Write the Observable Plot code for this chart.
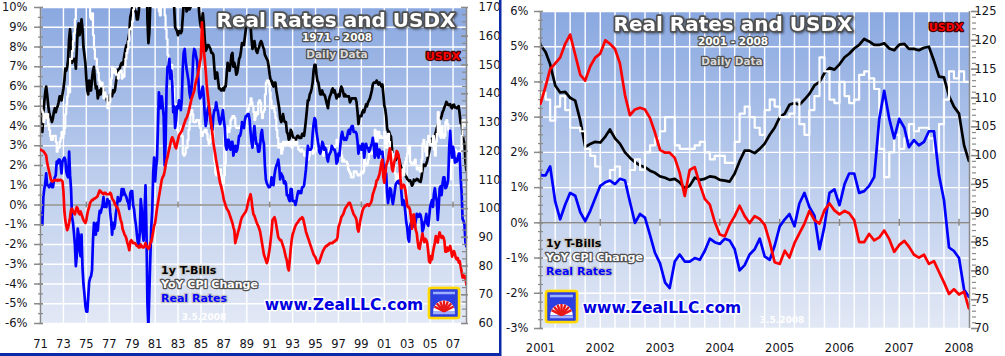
<!DOCTYPE html>
<html><head><meta charset="utf-8">
<script src="https://cdn.jsdelivr.net/npm/d3@7"></script>
<script src="https://cdn.jsdelivr.net/npm/@observablehq/plot@0.6"></script>
<style>
html,body{margin:0;padding:0;background:#fff;}
body{width:1005px;height:356px;overflow:hidden;position:relative;font-family:"DejaVu Sans",sans-serif;}
.layer{position:absolute;top:0;}
.layer svg{display:block;}
#overlay{position:absolute;left:0;top:0;pointer-events:none;}
.o{paint-order:stroke;stroke-linejoin:round;font-family:"DejaVu Sans",sans-serif;font-weight:bold;}
</style></head>
<body>
<svg width="0" height="0" style="position:absolute">
  <defs>
    <linearGradient id="bg" x1="0" y1="0" x2="0" y2="1">
      <stop offset="0" stop-color="#8aa8e0"/>
      <stop offset="0.5" stop-color="#b9cbec"/>
      <stop offset="1" stop-color="#e2e8f5"/>
    </linearGradient>
  </defs>
</svg>
<div id="p1a" class="layer" style="left:0"></div>
<div id="p1b" class="layer" style="left:0"></div>
<div id="p2a" class="layer" style="left:501px"></div>
<div id="p2b" class="layer" style="left:501px"></div>
<svg id="overlay" width="1005" height="356"></svg>
<script>
// ---- Monthly data, Jan 1971 .. Mar 2008 ----
const startYear = 1971;
// 1-year T-Bill yield (%)
const tbill = [
4.9,3.8,3.7,4.6,5.2,5.7,6.0,5.6,5.1,4.7,4.5,4.4,
4.2,4.4,4.7,4.9,4.7,4.9,5.0,5.2,5.5,5.5,5.3,5.6,
5.9,6.3,6.9,6.8,7.0,7.4,8.4,8.9,8.2,7.2,7.4,7.3,
7.4,6.9,7.8,8.9,9.2,8.6,8.9,9.4,8.9,8.0,7.6,7.2,
6.4,5.8,5.6,6.3,5.8,5.8,6.4,6.8,7.0,6.3,5.9,6.0,
5.4,5.6,5.8,5.6,6.0,6.0,5.8,5.6,5.5,5.4,5.2,5.1,
5.4,5.6,5.6,5.5,5.8,5.7,5.8,6.2,6.5,6.8,6.9,6.9,
7.1,7.2,7.1,7.3,7.6,7.9,8.1,8.1,8.4,8.7,9.5,9.7,
10.0,9.9,10.0,9.8,9.8,9.4,9.4,9.8,10.8,12.4,12.4,11.9,
12.1,13.9,15.8,13.3,9.4,8.2,8.7,10.2,11.5,12.5,14.2,14.9,
13.0,13.3,12.8,13.9,15.5,14.9,15.7,16.3,16.0,14.6,11.6,12.0,
14.3,14.6,13.8,13.9,13.1,13.9,12.6,10.6,10.0,9.0,8.9,8.8,
8.6,8.8,8.8,8.7,8.8,9.5,10.2,10.5,10.2,9.8,9.9,10.1,
9.9,10.0,10.6,11.0,11.7,12.1,12.0,11.8,11.6,10.9,9.8,9.3,
9.0,9.3,9.7,9.2,8.4,7.8,7.9,8.1,8.1,8.0,7.9,7.7,
7.7,7.6,7.0,6.4,6.7,6.7,6.3,5.9,5.9,5.8,5.8,5.9,
5.8,6.0,6.0,6.6,7.2,7.0,6.8,7.1,7.6,7.7,7.0,7.2,
7.0,6.6,6.7,7.0,7.4,7.5,7.8,8.2,8.2,8.1,8.5,8.9,
9.2,9.4,9.6,9.4,9.1,8.4,7.9,8.2,8.3,8.0,7.8,7.7,
7.9,8.0,8.2,8.3,8.2,8.0,7.9,7.6,7.5,7.4,7.3,7.0,
6.6,6.3,6.3,6.1,6.0,6.2,6.2,5.8,5.5,5.2,4.9,4.4,
4.2,4.3,4.6,4.3,4.2,4.2,3.7,3.6,3.3,3.4,3.8,3.7,
3.5,3.4,3.3,3.2,3.4,3.5,3.5,3.4,3.4,3.4,3.6,3.6,
3.5,3.9,4.3,4.8,5.3,5.3,5.6,5.7,5.9,6.2,6.8,7.1,
7.1,6.6,6.3,6.2,5.9,5.6,5.6,5.8,5.6,5.6,5.5,5.3,
5.1,4.9,5.3,5.5,5.6,5.8,5.9,5.7,5.8,5.6,5.4,5.5,
5.6,5.5,5.8,6.0,5.9,5.7,5.5,5.6,5.5,5.5,5.5,5.5,
5.2,5.3,5.4,5.4,5.4,5.4,5.4,5.2,4.7,4.1,4.5,4.5,
4.5,4.7,4.8,4.7,4.9,5.1,5.0,5.2,5.3,5.4,5.6,5.8,
6.1,6.2,6.2,6.2,6.3,6.2,6.1,6.2,6.1,6.0,6.1,5.6,
5.05,4.85,4.5,3.9,3.7,3.72,3.55,3.47,2.9,2.15,2.24,2.3,
2.28,2.45,2.65,2.4,2.25,2.0,1.85,1.72,1.63,1.58,1.48,1.42,
1.32,1.28,1.22,1.25,1.15,0.98,1.05,1.28,1.22,1.25,1.32,1.3,
1.22,1.2,1.17,1.4,1.75,2.05,2.05,1.98,2.1,2.25,2.5,2.7,
3.0,3.1,3.35,3.4,3.35,3.5,3.66,3.9,4.0,4.25,4.4,4.35,
4.5,4.7,4.8,4.95,5.05,5.22,5.15,5.05,5.05,5.1,4.95,4.9,
5.06,5.08,4.94,4.94,4.9,4.97,5.0,4.6,4.15,4.13,3.6,3.3,
3.1,2.2,1.76];
// YoY CPI change (%)
const cpi = [
5.3,4.8,4.7,4.2,4.4,4.6,4.4,4.6,4.1,3.8,3.5,3.3,
3.3,3.5,3.5,3.5,3.2,2.7,2.9,2.9,3.2,3.4,3.7,3.4,
3.6,3.9,4.6,5.1,5.5,6.0,5.7,7.4,7.4,7.8,8.3,8.7,
9.4,10.0,10.4,10.1,10.7,10.9,11.5,10.9,12.1,12.0,12.1,12.3,
11.8,11.2,10.3,10.2,9.5,9.4,9.7,8.6,7.9,7.4,7.4,6.9,
6.7,6.3,6.1,6.0,6.2,6.0,5.4,5.7,5.5,5.5,4.9,4.9,
5.2,6.0,6.4,7.0,6.7,6.9,6.8,6.6,6.6,6.4,6.7,6.7,
6.8,6.4,6.6,6.5,7.0,7.4,7.7,7.9,8.3,8.9,8.9,9.0,
9.3,9.9,10.2,10.5,10.8,10.9,11.3,11.8,12.2,12.1,12.6,13.3,
13.9,14.2,14.8,14.7,14.4,14.4,13.1,12.9,12.6,12.8,12.6,12.5,
11.8,11.4,10.5,10.0,9.8,9.6,10.8,10.8,11.0,10.1,9.6,8.9,
8.4,7.6,6.8,6.5,6.7,7.1,6.4,5.9,5.0,5.1,4.6,3.8,
3.7,3.5,3.6,3.9,3.5,2.6,2.5,2.6,2.9,2.9,3.3,3.8,
4.2,4.6,4.8,4.6,4.2,4.2,4.2,4.3,4.3,4.3,4.1,3.9,
3.5,3.5,3.7,3.7,3.8,3.8,3.6,3.3,3.1,3.2,3.5,3.8,
3.9,3.1,2.2,1.6,1.5,1.8,1.6,1.6,1.8,1.5,1.3,1.1,
1.5,2.1,3.0,3.8,3.9,3.7,3.9,4.3,4.4,4.5,4.5,4.4,
4.0,3.9,3.9,3.9,3.9,4.0,4.1,4.0,4.2,4.2,4.2,4.4,
4.7,4.8,5.0,5.1,5.4,5.2,5.0,4.7,4.3,4.5,4.7,4.6,
5.2,5.3,5.2,4.7,4.4,4.7,4.8,5.6,6.2,6.3,6.3,6.1,
5.7,5.3,4.9,4.9,5.0,4.7,4.4,3.8,3.4,2.9,3.0,3.1,
2.6,2.8,3.2,3.2,3.0,3.1,3.2,3.1,3.0,3.2,3.0,2.9,
3.3,3.2,3.1,3.2,3.2,3.0,2.8,2.8,2.7,2.8,2.7,2.7,
2.5,2.5,2.5,2.4,2.3,2.5,2.8,2.9,3.0,2.6,2.7,2.7,
2.8,2.9,2.9,3.1,3.2,3.0,2.8,2.6,2.5,2.8,2.6,2.5,
2.7,2.7,2.8,2.9,2.9,2.8,3.0,2.9,3.0,3.0,3.3,3.3,
3.0,3.0,2.8,2.5,2.2,2.3,2.2,2.2,2.2,2.1,1.8,1.7,
1.6,1.4,1.4,1.4,1.7,1.7,1.7,1.6,1.5,1.5,1.5,1.6,
1.7,1.6,1.7,2.3,2.1,2.0,2.1,2.3,2.6,2.6,2.6,2.7,
2.7,3.2,3.8,3.1,3.2,3.7,3.7,3.4,3.5,3.4,3.4,3.4,
3.7,3.5,2.9,3.3,3.6,3.2,2.7,2.7,2.6,2.1,1.9,1.6,
1.1,1.1,1.5,1.6,1.2,1.1,1.5,1.8,1.5,2.0,2.2,2.4,
2.6,3.0,3.0,2.2,2.1,2.1,2.1,2.2,2.3,2.0,1.8,1.9,
1.9,1.7,1.7,2.3,3.1,3.3,3.0,2.7,2.5,3.2,3.5,3.3,
3.0,3.0,3.1,3.5,2.8,2.5,3.2,3.6,4.7,4.3,3.5,3.4,
4.0,3.6,3.4,3.5,4.2,4.3,4.1,3.8,2.1,1.3,2.0,2.5,
2.1,2.4,2.8,2.6,2.7,2.7,2.4,2.0,2.8,3.5,4.3,4.1,
4.3,4.0,4.0];
// Real rates (%)
const realRate = [
-0.4,-1.0,-1.0,0.4,0.8,1.1,1.6,1.0,1.0,0.9,1.0,1.1,
0.9,0.9,1.2,1.4,1.5,2.2,2.1,2.3,2.3,2.1,1.6,2.2,
2.3,2.4,2.3,1.7,1.5,1.4,2.7,1.5,0.8,-0.6,-0.9,-1.4,
-2.0,-3.1,-2.6,-1.2,-1.5,-2.3,-2.6,-1.5,-3.2,-4.0,-4.5,-5.1,
-5.4,-5.4,-4.7,-3.9,-3.7,-3.6,-3.3,-1.8,-0.9,-1.1,-1.5,-0.9,
-1.3,-0.7,-0.3,-0.4,-0.2,0.0,0.4,-0.1,0.0,-0.1,0.3,0.2,
0.2,-0.4,-0.8,-1.5,-0.9,-1.2,-1.0,-0.4,-0.1,0.4,0.2,0.2,
0.3,0.8,0.5,0.8,0.6,0.5,0.4,0.2,0.1,-0.2,0.6,0.7,
0.7,0.0,-0.2,-0.7,-1.0,-1.5,-1.9,-2.0,-1.4,0.3,-0.2,-1.4,
-1.8,-0.3,1.0,-1.4,-5.0,-6.2,-4.4,-2.7,-1.1,-0.3,1.6,2.4,
1.2,1.9,2.3,3.9,5.7,5.3,4.9,5.5,5.0,4.5,2.0,3.1,
5.9,7.0,7.0,7.4,6.4,6.8,6.2,4.7,5.0,3.9,4.3,5.0,
4.9,5.3,5.2,4.8,5.3,6.9,7.7,7.9,7.3,6.9,6.6,6.3,
5.7,5.4,5.8,6.4,7.5,7.9,7.8,7.5,7.3,6.6,5.7,5.4,
5.5,5.8,6.0,5.5,4.6,4.0,4.3,4.8,5.0,4.8,4.4,3.9,
3.8,4.5,4.8,4.8,5.2,4.9,4.7,4.3,4.1,4.3,4.5,4.8,
4.3,3.9,3.0,2.8,3.3,3.3,2.9,2.8,3.2,3.2,2.5,2.8,
3.0,2.7,2.8,3.1,3.5,3.5,3.7,4.2,4.0,3.9,4.3,4.5,
4.5,4.6,4.6,4.3,3.7,3.2,2.9,3.5,4.0,3.5,3.1,3.1,
2.7,2.7,3.0,3.6,3.8,3.3,3.1,2.0,1.3,1.1,1.0,0.9,
0.9,1.0,1.4,1.2,1.0,1.5,1.8,2.0,2.1,2.3,1.9,1.3,
1.6,1.5,1.4,1.1,1.2,1.1,0.5,0.5,0.3,0.2,0.8,0.8,
0.2,0.2,0.2,0.0,0.2,0.5,0.7,0.6,0.7,0.6,0.9,0.9,
1.0,1.4,1.8,2.4,3.0,2.8,2.8,2.8,2.9,3.6,4.1,4.4,
4.3,3.7,3.4,3.1,2.7,2.6,2.8,3.2,3.1,2.8,2.9,2.8,
2.4,2.2,2.5,2.6,2.7,3.0,2.9,2.8,2.8,2.6,2.1,2.2,
2.6,2.5,3.0,3.5,3.7,3.4,3.3,3.4,3.3,3.4,3.7,3.8,
3.6,3.9,4.0,4.0,3.7,3.7,3.7,3.6,3.2,2.6,3.0,2.9,
2.8,3.1,3.1,2.4,2.8,3.1,2.9,2.9,2.7,2.8,3.0,3.1,
3.4,3.0,2.4,3.1,3.1,2.5,2.4,2.8,2.6,2.6,2.7,2.2,
1.35,1.35,1.6,0.6,0.1,0.52,0.85,0.77,0.3,0.05,0.34,0.7,
1.05,1.15,1.2,1.1,1.25,1.2,0.6,0.0,0.25,0.15,-0.35,-0.85,
-1.15,-1.7,-1.85,-1.1,-0.9,-1.1,-1.1,-1.0,-1.05,-0.8,-0.45,-0.55,
-0.6,-0.45,-0.5,-0.75,-1.35,-1.2,-0.9,-0.75,-0.45,-0.95,-1.05,-0.65,
-0.1,0.1,0.25,-0.1,0.55,0.85,0.45,0.2,-0.75,-0.1,0.85,0.95,
0.5,1.1,1.4,1.4,0.85,0.9,1.05,1.3,2.95,3.75,2.95,2.4,
2.95,2.7,2.15,2.35,2.2,2.3,2.6,2.6,1.35,0.65,-0.7,-0.8,
-1.0,-1.9,-2.1];
// US Dollar Index
const usdx = [
120.5,120.3,120.2,120.0,119.5,119.0,118.5,116.0,114.5,113.0,111.5,110.0,
109.5,109.5,109.8,110.0,109.8,110.0,109.7,110.0,109.8,110.0,109.8,109.5,
106.0,99.0,96.0,94.0,92.5,93.5,95.0,97.0,99.5,100.0,99.0,98.5,
98.0,99.5,100.5,100.0,98.5,98.0,99.0,98.0,97.0,96.0,95.5,95.0,
96.0,98.0,99.5,100.5,102.0,102.5,103.0,103.0,103.5,103.5,103.8,104.0,
104.5,105.5,106.3,106.0,105.5,105.5,105.0,105.5,105.5,105.0,105.0,105.0,
105.0,105.5,105.0,103.5,103.0,102.5,101.5,101.0,100.5,100.0,99.0,97.5,
96.0,95.0,93.0,92.0,91.0,90.5,89.5,88.0,87.0,85.5,88.5,89.0,
88.5,88.0,88.0,88.0,87.5,87.0,87.0,86.5,86.5,87.5,87.0,86.5,
86.5,87.0,88.0,87.0,86.5,86.0,86.5,88.0,88.5,90.0,92.0,94.0,
95.0,97.5,100.0,102.0,104.0,106.0,108.0,110.0,111.0,111.5,113.0,115.0,
116.8,118.0,119.5,121.0,122.5,124.0,124.8,124.0,123.0,121.5,121.0,122.5,
124.0,125.5,126.0,126.5,127.0,128.0,129.0,130.0,131.0,131.5,132.5,133.5,
135.0,136.5,138.0,139.0,140.0,141.0,143.0,144.5,145.6,147.0,149.0,151.0,
152.6,164.8,160.0,155.0,152.0,148.0,143.5,140.0,137.0,134.0,131.5,129.0,
126.0,123.0,121.0,119.0,116.7,115.0,113.0,111.0,109.0,108.0,106.5,105.0,
103.0,102.0,101.0,100.0,99.5,99.0,98.0,97.0,96.0,95.0,93.5,92.4,
88.0,89.5,90.5,92.0,93.0,94.5,96.0,97.0,97.5,98.0,98.5,99.0,
100.0,101.5,103.0,104.0,105.0,103.0,100.0,98.0,97.5,96.5,95.5,94.6,
94.0,93.0,92.0,90.0,88.0,86.0,84.0,83.0,82.0,81.0,82.0,84.0,
86.0,89.0,92.0,96.0,96.5,97.0,96.0,94.0,92.0,90.0,89.5,89.0,
89.0,88.0,87.0,86.0,84.5,83.0,82.0,79.5,78.5,82.0,86.0,89.0,
91.0,92.0,93.0,94.0,94.6,95.0,95.5,96.0,96.5,96.5,97.0,96.5,
95.0,93.5,92.0,91.0,90.0,89.0,88.0,87.0,86.0,85.0,84.0,83.5,
83.0,82.0,81.0,81.0,81.5,82.5,83.5,84.5,85.4,86.0,86.5,87.0,
87.0,87.5,87.5,88.0,88.0,88.0,88.0,88.5,88.5,89.0,89.0,90.0,
93.5,94.5,95.5,97.0,97.5,98.0,99.0,100.0,100.5,101.0,101.5,102.0,
102.0,101.0,100.0,99.0,98.0,97.5,97.0,96.0,93.0,92.0,94.0,96.0,
97.5,99.0,100.0,100.5,101.0,101.0,101.5,101.5,101.0,101.5,102.0,103.0,
105.0,106.0,107.0,108.0,109.8,110.0,111.0,112.0,114.0,116.0,117.0,111.0,
109.0,112.0,115.0,116.0,117.0,119.4,121.0,117.5,114.0,113.0,115.5,117.0,
117.7,120.0,119.4,118.5,116.0,110.5,107.0,108.0,108.3,108.0,106.5,104.0,
101.0,100.5,100.5,99.6,97.0,93.0,97.5,98.0,95.0,92.5,91.5,88.5,
86.3,86.0,88.0,89.5,91.3,89.5,88.3,89.5,89.0,88.0,85.0,81.5,
81.2,83.5,82.3,84.8,86.5,88.2,90.4,88.8,88.2,90.5,91.7,90.5,
89.8,90.4,90.0,88.8,85.0,85.0,86.4,85.3,85.8,87.0,85.5,83.3,
84.5,85.2,84.2,82.8,82.3,82.8,81.2,81.7,79.8,78.0,76.0,76.8,
75.9,76.4,73.5];

// axis tick labels
const longYears = [1971,1973,1975,1977,1979,1981,1983,1985,1987,1989,1991,1993,1995,1997,1999,2001,2003,2005,2007];
const longZeroTickYears = [1975,1983,1991,1999,2007];
const shortYears = [2001,2002,2003,2004,2005,2006,2007,2008];
const longPct = [-6,-5,-4,-3,-2,-1,0,1,2,3,4,5,6,7,8,9,10];
const shortPct = [-3,-2,-1,0,1,2,3,4,5,6];
const longUsdx = [60,70,80,90,100,110,120,130,140,150,160,170];
const shortUsdx = [70,75,80,85,90,95,100,105,110,115,120,125];

const U = (y, m = 0, d = 1) => new Date(Date.UTC(y, m, d));
const rows = tbill.map((v, i) => ({
  date: U(startYear, i, 1), tbill: v, cpi: cpi[i], real: realRate[i], usdx: usdx[i]
}));
const endDate = U(2008, 2, 5);
const noText = () => "";

function panel(cfg) {
  const common = {
    width: cfg.width, height: 356,
    marginLeft: cfg.ml, marginRight: cfg.mr, marginTop: cfg.mt, marginBottom: cfg.mb,
    style: {background: "transparent", fontFamily: "DejaVu Sans, sans-serif", fontSize: "11.5px", color: "#141420", overflow: "visible"}
  };
  const x = {type: "utc", domain: cfg.xDomain, label: null};
  const [y0, y1] = cfg.yDomain;
  const [r0, r1] = cfg.rDomain;
  const yMinor = d3.range(y0, y1 + 1e-9, cfg.yMinorStep);
  const rMinor = d3.range(r0, r1 + 1e-9, cfg.rMinorStep);
  const data = cfg.data;
  const lw = 2.7;
  const pA = Plot.plot({
    ...common, x, y: {domain: cfg.yDomain, label: null},
    marks: [
      Plot.frame({fill: "url(#bg)", stroke: "none"}),
      Plot.ruleX(cfg.gridX, {stroke: "white", strokeWidth: 1.4}),
      Plot.ruleY(cfg.gridY, {stroke: "white", strokeWidth: 1.4}),
      Plot.ruleY([0], {stroke: "#8a8a8a", strokeWidth: 1.5}),
      Plot.ruleX(cfg.zeroTicks, {x: d => d, y1: -cfg.zt, y2: cfg.zt, stroke: "#8a8a8a", strokeWidth: 1.5}),
      Plot.line(data, {x: "date", y: "tbill", stroke: "#000", strokeWidth: lw, clip: true}),
      Plot.line(data, {x: "date", y: "cpi", stroke: "#fff", strokeWidth: lw - 0.5, curve: "step-after", clip: true}),
      Plot.line(data, {x: "date", y: "real", stroke: "#0000ff", strokeWidth: lw, clip: true}),
      Plot.ruleX([cfg.xDomain[0]], {stroke: "#8a8a8a", strokeWidth: 1.5}),
      Plot.axisY(yMinor, {anchor: "left", label: null, tickSize: 5, dx: 3, stroke: "#8a8a8a", strokeWidth: 1.2, tickFormat: noText}),
      Plot.axisY(cfg.yTicks, {anchor: "left", label: null, tickSize: 9, dx: 3, stroke: "#8a8a8a", strokeWidth: 1.5, tickFormat: noText}),
      Plot.axisY(cfg.yTicks, {anchor: "left", label: null, tickSize: 0, tickPadding: cfg.yPad, tickFormat: d => d + "%", fill: "#141420"}),
      Plot.axisX(cfg.xTicks, {anchor: "bottom", label: null, tickSize: 0, tickPadding: cfg.xPad, tickFormat: cfg.xFmt, fill: "#141420"})
    ]
  });
  const pB = Plot.plot({
    ...common, x: {...x, axis: null}, y: {domain: cfg.rDomain, label: null},
    marks: [
      Plot.line(data, {x: "date", y: "usdx", stroke: "#ff0000", strokeWidth: lw, clip: true}),
      Plot.ruleX([cfg.xDomain[1]], {stroke: "#8a8a8a", strokeWidth: 1.5}),
      Plot.axisY(rMinor, {anchor: "right", label: null, tickSize: 4, dx: cfg.rdx, stroke: "#8a8a8a", strokeWidth: 1.2, tickFormat: noText}),
      Plot.axisY(cfg.rTicks, {anchor: "right", label: null, tickSize: 7, dx: cfg.rdx - 1, stroke: "#8a8a8a", strokeWidth: 1.5, tickFormat: noText}),
      Plot.axisY(cfg.rTicks, {anchor: "right", label: null, tickSize: 0, tickPadding: cfg.rPad, fill: "#141420"})
    ]
  });
  document.getElementById(cfg.idA).append(pA);
  document.getElementById(cfg.idB).append(pB);
}

// Left panel: 1971 - 2008
panel({
  idA: "p1a", idB: "p1b", width: 500, ml: 40, mr: 34, mt: 7, mb: 33,
  xDomain: [U(1971), endDate], yDomain: [-6, 10], rDomain: [60, 170],
  data: rows,
  gridX: longYears.map(y => U(y)), gridY: longPct,
  zeroTicks: longZeroTickYears.map(y => U(y)), zt: 0.15,
  yTicks: longPct, yMinorStep: 0.5, yPad: 13,
  rTicks: longUsdx, rMinorStep: 2.5, rdx: -5, rPad: 12,
  xTicks: longYears.map(y => U(y)), xFmt: d => String(d.getUTCFullYear()).slice(2), xPad: 16
});
// Right panel: 2001 - 2008
const quarters = [];
for (let y = 2001; y <= 2008; y++) for (let q = 0; q < 4; q++) quarters.push(U(y, q * 3));
panel({
  idA: "p2a", idB: "p2b", width: 504, ml: 39, mr: 36, mt: 11, mb: 28,
  xDomain: [U(2001), endDate], yDomain: [-3, 6], rDomain: [70, 125],
  data: rows.filter(d => d.date >= U(2000, 11)),
  gridX: quarters.filter(d => d > U(2001) && d < endDate), gridY: shortPct,
  zeroTicks: shortYears.map(y => U(y)), zt: 0.1,
  yTicks: shortPct, yMinorStep: 0.25, yPad: 12,
  rTicks: shortUsdx, rMinorStep: 1, rdx: 2, rPad: 5,
  xTicks: shortYears.map(y => U(y)), xFmt: d => String(d.getUTCFullYear()), xPad: 15
});

// ---- Decorative overlay (titles, legend, logos, frame) ----
const ov = document.getElementById("overlay");
function logo(x, y, s) {
  const c = s / 2;
  let fan = "";
  for (let k = 0; k < 7; k++) {
    const a = Math.PI * (0.15 + 0.7 * k / 6);
    fan += `<line x1="${c}" y1="${s * 0.78}" x2="${c - Math.cos(a) * s * 0.36}" y2="${s * 0.78 - Math.sin(a) * s * 0.36}" stroke="#e81818" stroke-width="2.4"/>`;
  }
  return `<g transform="translate(${x},${y})">
    <rect x="-1.5" y="-1.5" width="${s + 3}" height="${s + 3}" rx="4" fill="#ffe98a" opacity="0.8"/>
    <rect x="0" y="0" width="${s}" height="${s}" rx="2" fill="#2c3fe0" stroke="#ffd800" stroke-width="2.5"/>
    <path d="M4 5 H${s - 4} M4 ${s - 5} H${s - 4}" stroke="#9fb0ff" stroke-width="2.5"/>
    <path d="M${c - s * 0.36} ${s * 0.78} A ${s * 0.36} ${s * 0.36} 0 0 1 ${c + s * 0.36} ${s * 0.78} Z" fill="#fff"/>
    ${fan}
  </g>`;
}
function T(x, y, txt, size, fill, stroke, sw, anchor = "middle", extra = "") {
  return `<text class="o" x="${x}" y="${y}" font-size="${size}" fill="${fill}" stroke="${stroke}" stroke-width="${sw}" text-anchor="${anchor}" ${extra}>${txt}</text>`;
}
const shadow = `style="filter:drop-shadow(1.5px 1.5px 1px rgba(0,0,0,0.45))"`;
ov.innerHTML = `
  <rect x="499" y="0" width="2.5" height="356" fill="#0a2aa8"/>
  <rect x="0" y="353" width="501" height="3" fill="#0a2aa8"/>
  ${T(336, 27, "Real Rates and USDX", 20, "#fff", "#505050", 3.5, "middle", shadow)}
  ${T(337, 41, "1971 - 2008", 10.5, "#fff", "#505050", 2.5)}
  ${T(337, 58, "Daily Data", 10.5, "#d8d8d8", "#505050", 2.5)}
  ${T(443, 60, "USDX", 11, "#ff0000", "#400000", 2.5)}
  ${T(161, 274, "1y T-Bills", 11, "#000", "#c8c8c8", 2.5, "start")}
  ${T(161, 288, "YoY CPI Change", 11, "#fff", "#505050", 2.5, "start")}
  ${T(161, 302, "Real Rates", 11, "#0000ff", "#c0c0c0", 2.5, "start")}
  ${T(204, 320, "3.5.2008", 9, "#fff", "none", 0)}
  ${T(344, 310, "www.ZealLLC.com", 15.5, "#0000e0", "#fff", 3)}
  ${logo(429, 288, 30)}
  ${T(733, 31, "Real Rates and USDX", 20, "#fff", "#505050", 3.5, "middle", shadow)}
  ${T(733, 45, "2001 - 2008", 10.5, "#fff", "#505050", 2.5)}
  ${T(732, 65, "Daily Data", 10.5, "#d8d8d8", "#505050", 2.5)}
  ${T(946, 31, "USDX", 11, "#ff0000", "#400000", 2.5)}
  ${T(546, 247, "1y T-Bills", 11, "#000", "#c8c8c8", 2.5, "start")}
  ${T(546, 261, "YoY CPI Change", 11, "#fff", "#505050", 2.5, "start")}
  ${T(546, 275, "Real Rates", 11, "#0000ff", "#c0c0c0", 2.5, "start")}
  ${T(782, 323, "3.5.2008", 9, "#fff", "none", 0)}
  ${T(662, 313, "www.ZealLLC.com", 15.5, "#0000e0", "#fff", 3)}
  ${logo(546, 291, 31)}
`;
</script>
</body></html>
